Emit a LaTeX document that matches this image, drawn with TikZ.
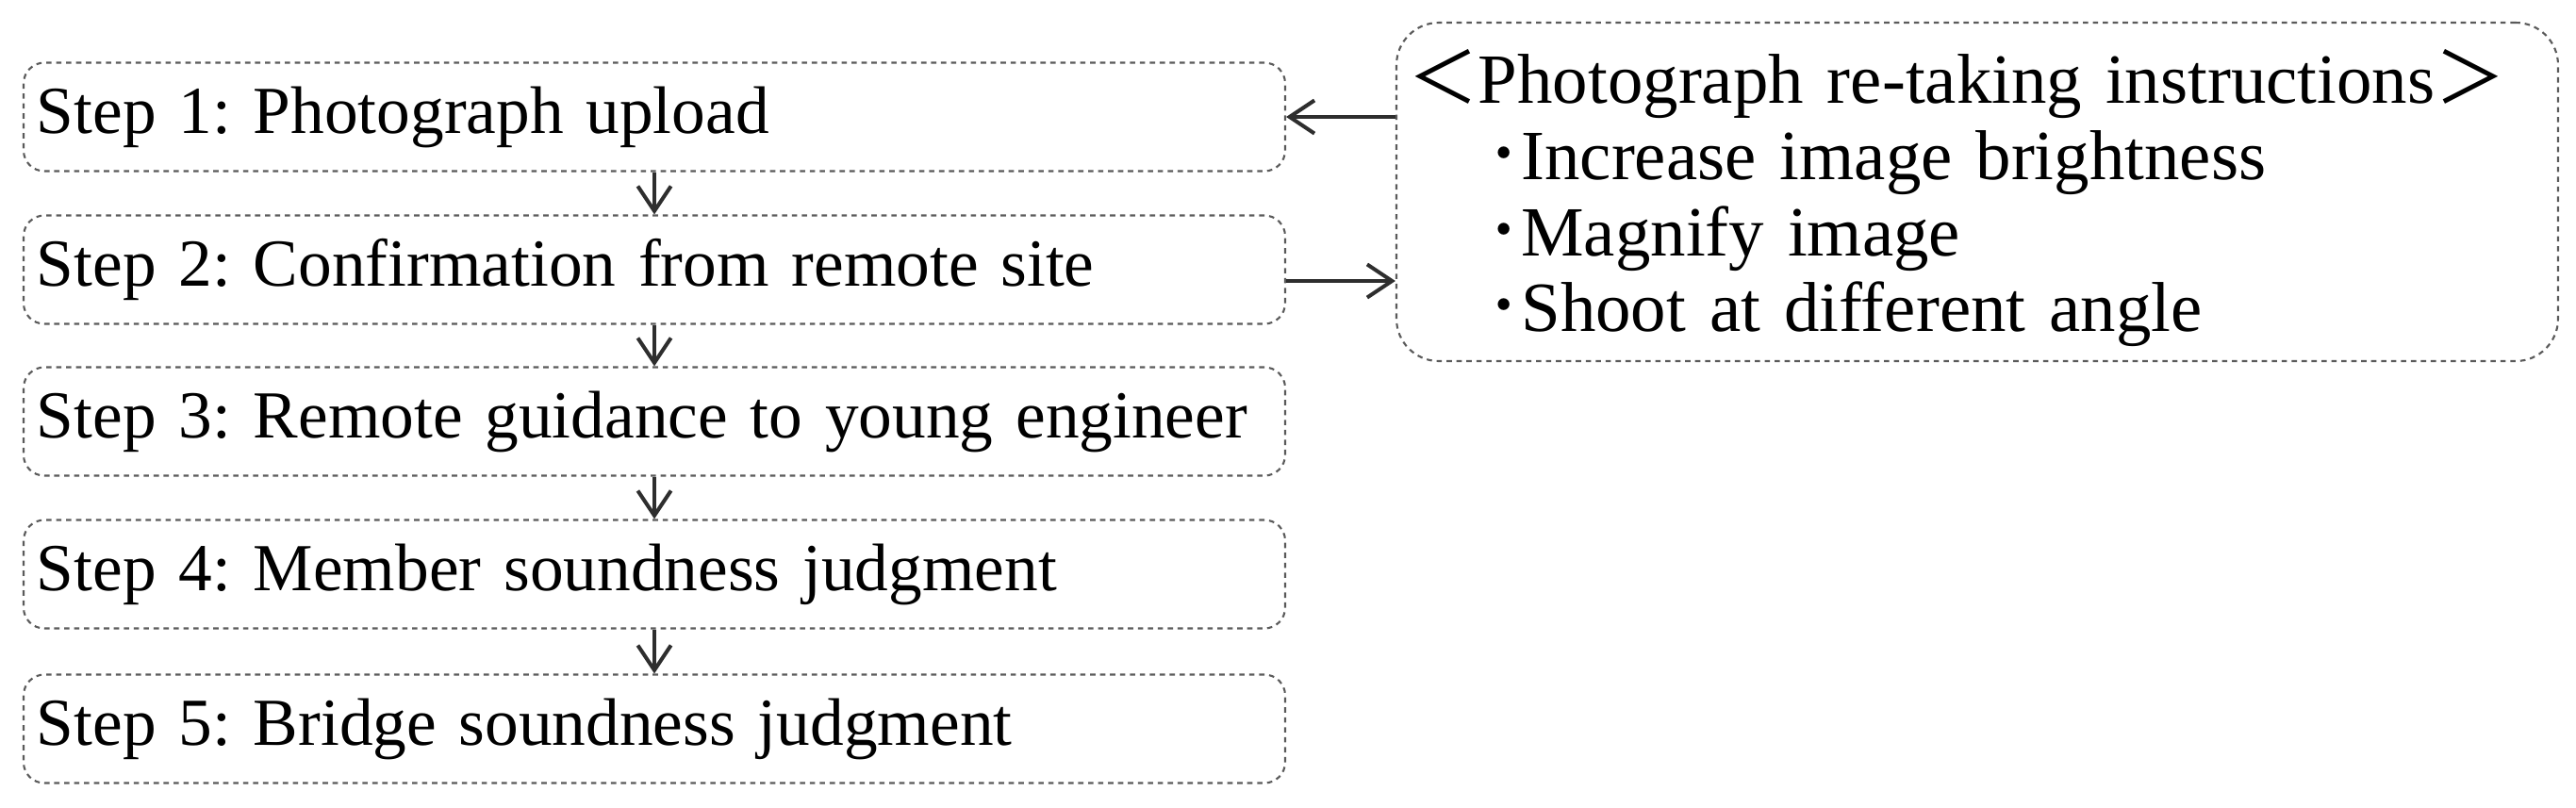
\documentclass[tikz,border=0pt]{standalone}
\usepackage{fontspec}
\setmainfont{Liberation Serif}
\newfontfamily\cjk{Noto Sans CJK JP}
\usepackage{tikz}
\usetikzlibrary{shapes}
\usetikzlibrary{arrows.meta}
\usetikzlibrary{positioning}
\definecolor{edgegray}{HTML}{5A5A5A}
\definecolor{arrowgray}{HTML}{2E2E2E}
\tikzstyle{stepbox}=[draw=edgegray, line width=0.6pt, dash pattern=on 1.6pt off 1.4pt, rounded corners=0.22cm, minimum height=1.15cm, text width=13.1cm, inner xsep=0.14cm, align=left, font=\fontsize{20.3}{23}\selectfont]
\tikzstyle{notebox}=[draw=edgegray, line width=0.6pt, dash pattern=on 1.6pt off 1.4pt, rounded corners=0.45cm, minimum height=3.59cm, text width=12.08cm, inner xsep=0.12cm, align=left, font=\fontsize{21.3}{23}\selectfont]
\tikzstyle{arrow}=[-{Straight Barb[length=7.5pt,width=10pt]}, arrowgray, line width=1.15pt]
\tikzset{every picture/.style={
    execute at begin picture=\frenchspacing
  }
}

\begin{document}
\begin{tikzpicture}
        \useasboundingbox (0,0) rectangle (27.32,-8.56);
        \node[stepbox] at (6.94,-1.24) (step1) {Step 1: Photograph upload};
        \node[stepbox] at (6.94,-2.86) (step2) {Step 2: Confirmation from remote site};
        \node[stepbox] at (6.94,-4.47) (step3) {Step 3: Remote guidance to young engineer};
        \node[stepbox] at (6.94,-6.09) (step4) {Step 4: Member soundness judgment};
        \node[stepbox] at (6.94,-7.73) (step5) {Step 5: Bridge soundness judgment};
        \node[notebox] at (20.97,-2.035) (retake) {\rule{0pt}{20pt}{\cjk ＜}Photograph re-taking instructions{\cjk ＞}\\
          \hspace*{0.83cm}{\cjk ･}Increase image brightness\\
          \hspace*{0.83cm}{\cjk ･}Magnify image\\
          \hspace*{0.83cm}{\cjk ･}Shoot at different angle};
        \draw[arrow] (step1) -- (step2);
        \draw[arrow] (step2) -- (step3);
        \draw[arrow] (step3) -- (step4);
        \draw[arrow] (step4) -- (step5);
        \draw[arrow] (retake.west |- step1) -- (step1.east);
        \draw[arrow] ([yshift=-1.2mm]step2.east) -- ([yshift=-1.2mm]step2.east -| retake.west);
      \end{tikzpicture}
\end{document}
